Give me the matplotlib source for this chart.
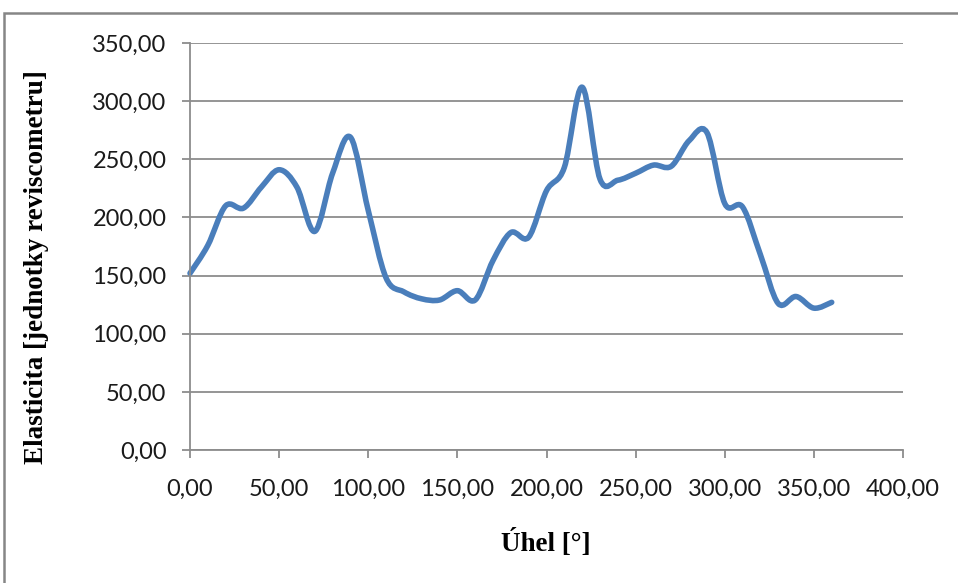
import numpy as np
import matplotlib
matplotlib.use("Agg")
import matplotlib.pyplot as plt
from matplotlib.path import Path
from matplotlib.patches import PathPatch, Rectangle
from matplotlib.ticker import FuncFormatter

# Measured elasticity at each angle
angles = [0, 10, 20, 30, 40, 50, 60, 70, 80, 90, 100, 110, 120, 130, 140, 150,
          160, 170, 180, 190, 200, 210, 220, 230, 240, 250, 260, 270, 280, 290,
          300, 310, 320, 330, 340, 350, 360]
elasticity = [152, 176, 210, 208, 226, 241, 226, 188, 238, 269, 206, 148, 136,
              130, 129, 137, 129, 163, 187, 183, 223, 243, 312, 233, 232, 238,
              245, 244, 266, 273, 212, 209, 168, 126, 132, 122, 127]

x_ticks = [0, 50, 100, 150, 200, 250, 300, 350, 400]
y_ticks = [0, 50, 100, 150, 200, 250, 300, 350]

W, H = 958, 583
fig = plt.figure(figsize=(W / 100, H / 100), dpi=100)
fig.patch.set_facecolor("white")

# Outer chart frame
fig.patches.append(Rectangle((4 / W, -0.1), 1.2, (H - 13) / H + 0.1,
                             transform=fig.transFigure, fill=False,
                             edgecolor="#868686", linewidth=1.8))

ax = fig.add_axes([190 / W, 1 - 450 / H, 713 / W, 407 / H])
ax.set_xlim(0, 400)
ax.set_ylim(0, 350)

grid_c = "#8c8c8c"
ax.set_xticks(x_ticks)
ax.set_yticks(y_ticks)
ax.yaxis.grid(True, color=grid_c, linewidth=1.3)
ax.set_axisbelow(True)
for side in ("top", "right"):
    ax.spines[side].set_visible(False)
for side in ("left", "bottom"):
    ax.spines[side].set_color(grid_c)
    ax.spines[side].set_linewidth(1.3)

fmt = FuncFormatter(lambda v, p: f"{v:.2f}".replace(".", ","))
ax.xaxis.set_major_formatter(fmt)
ax.yaxis.set_major_formatter(fmt)
ax.tick_params(axis="both", color=grid_c, width=1.3, length=6,
               labelsize=17, labelcolor="#1a1a1a")
ax.tick_params(axis="y", pad=11)
ax.tick_params(axis="x", pad=15)
for lab in ax.get_xticklabels() + ax.get_yticklabels():
    lab.set_fontfamily("Lato")

# Smoothed line through the points (cubic Bezier segments)
pts = np.column_stack([angles, elasticity]).astype(float)
ext = np.vstack([pts[0], pts, pts[-1]])
verts = [tuple(pts[0])]
codes = [Path.MOVETO]
for i in range(len(pts) - 1):
    p0, p1, p2, p3 = ext[i], ext[i + 1], ext[i + 2], ext[i + 3]
    c1 = p1 + (p2 - p0) / 6.0
    c2 = p2 - (p3 - p1) / 6.0
    verts += [tuple(c1), tuple(c2), tuple(p2)]
    codes += [Path.CURVE4] * 3
ax.add_patch(PathPatch(Path(verts, codes), fill=False, edgecolor="#4a7ebb",
                       linewidth=4.0, capstyle="round", joinstyle="round",
                       clip_on=False))

serif = "Liberation Serif"
fig.text(546 / W, 1 - 543 / H, "Úhel [°]", ha="center", va="center",
         fontsize=19.5, fontweight="bold", family=serif)
fig.text(37 / W, 1 - 267 / H, "Elasticita [jednotky reviscometru]",
         ha="center", va="center", rotation=90, fontsize=19.5,
         fontweight="bold", family=serif)

fig.savefig("out.png", dpi=100, facecolor="white")
